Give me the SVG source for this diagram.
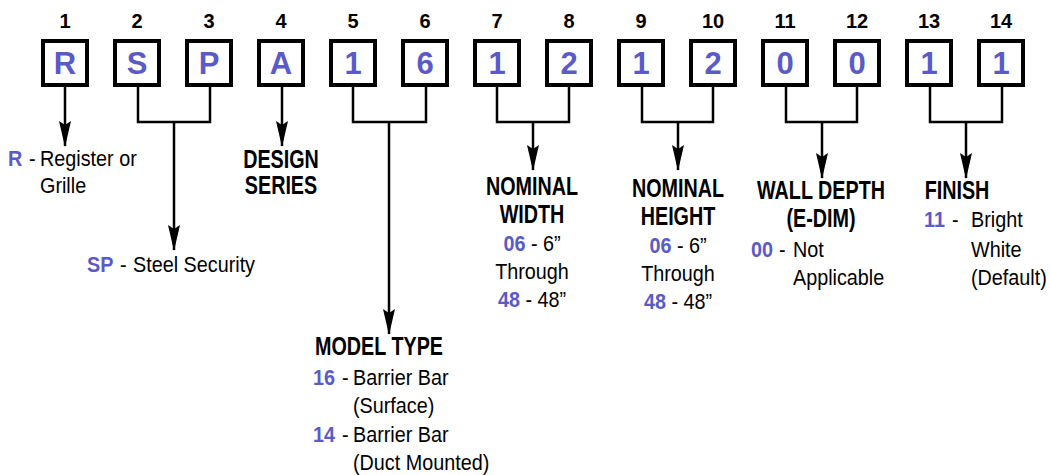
<svg xmlns="http://www.w3.org/2000/svg" width="1050" height="475" viewBox="0 0 1050 475">
<style>
text{font-family:"Liberation Sans",Arial,sans-serif;fill:#000}
.num{font-size:20px;font-weight:bold;text-anchor:middle}
.box{fill:#fff;stroke:#000;stroke-width:4}
.ch{font-size:31px;font-weight:bold;text-anchor:middle;fill:#5a5ac8}
.h{font-size:25px;font-weight:bold;text-anchor:middle}
.t{font-size:22px}
.b{font-weight:bold;fill:#5a5ac8}
.c{text-anchor:middle}
.ln{fill:none;stroke:#000;stroke-width:2.5}
.ar{fill:none;stroke:#000;stroke-width:2.5;marker-end:url(#arr)}
</style>
<defs>
<marker id="arr" viewBox="0 0 26 12" refX="25" refY="6" markerWidth="26" markerHeight="12" markerUnits="userSpaceOnUse" orient="auto">
<path d="M0,0 L26,6 L0,12 L4,6 z" fill="#000"/>
</marker>
</defs>
<g id="positions">
<text class="num" x="65" y="28">1</text>
<text class="num" x="137" y="28">2</text>
<text class="num" x="209" y="28">3</text>
<text class="num" x="281" y="28">4</text>
<text class="num" x="353" y="28">5</text>
<text class="num" x="425" y="28">6</text>
<text class="num" x="497" y="28">7</text>
<text class="num" x="569" y="28">8</text>
<text class="num" x="641" y="28">9</text>
<text class="num" x="713" y="28">10</text>
<text class="num" x="785" y="28">11</text>
<text class="num" x="857" y="28">12</text>
<text class="num" x="929" y="28">13</text>
<text class="num" x="1001" y="28">14</text>
</g>
<g id="box1"><rect class="box" x="43" y="41" width="44" height="44"/><text class="ch" x="65" y="74">R</text></g>
<g id="box2"><rect class="box" x="115" y="41" width="44" height="44"/><text class="ch" x="137" y="74">S</text></g>
<g id="box3"><rect class="box" x="187" y="41" width="44" height="44"/><text class="ch" x="209" y="74">P</text></g>
<g id="box4"><rect class="box" x="259" y="41" width="44" height="44"/><text class="ch" x="281" y="74">A</text></g>
<g id="box5"><rect class="box" x="331" y="41" width="44" height="44"/><text class="ch" x="353" y="74">1</text></g>
<g id="box6"><rect class="box" x="403" y="41" width="44" height="44"/><text class="ch" x="425" y="74">6</text></g>
<g id="box7"><rect class="box" x="475" y="41" width="44" height="44"/><text class="ch" x="497" y="74">1</text></g>
<g id="box8"><rect class="box" x="547" y="41" width="44" height="44"/><text class="ch" x="569" y="74">2</text></g>
<g id="box9"><rect class="box" x="619" y="41" width="44" height="44"/><text class="ch" x="641" y="74">1</text></g>
<g id="box10"><rect class="box" x="691" y="41" width="44" height="44"/><text class="ch" x="713" y="74">2</text></g>
<g id="box11"><rect class="box" x="763" y="41" width="44" height="44"/><text class="ch" x="785" y="74">0</text></g>
<g id="box12"><rect class="box" x="835" y="41" width="44" height="44"/><text class="ch" x="857" y="74">0</text></g>
<g id="box13"><rect class="box" x="907" y="41" width="44" height="44"/><text class="ch" x="929" y="74">1</text></g>
<g id="box14"><rect class="box" x="979" y="41" width="44" height="44"/><text class="ch" x="1001" y="74">1</text></g>
<g id="connectors">
<path class="ar" d="M65,87 V146"/>
<path class="ln" d="M138,87 V122 H210 V87"/>
<path class="ar" d="M174,122 V250"/>
<path class="ar" d="M282,87 V146"/>
<path class="ln" d="M353,87 V122 H426 V87"/>
<path class="ar" d="M389,122 V334"/>
<path class="ln" d="M497,87 V122 H569 V87"/>
<path class="ar" d="M533,122 V170"/>
<path class="ln" d="M642,87 V122 H713 V87"/>
<path class="ar" d="M678,122 V170"/>
<path class="ln" d="M786,87 V122 H857 V87"/>
<path class="ar" d="M822,122 V178"/>
<path class="ln" d="M930,87 V122 H1002 V87"/>
<path class="ar" d="M966,122 V178"/>
</g>
<g id="label-register">
<text class="t" transform="translate(8,166) scale(0.9,1)"><tspan class="b" x="0">R</tspan><tspan x="23.3">-</tspan><tspan x="35.6">Register or</tspan></text>
<text class="t" transform="translate(40,193) scale(0.9,1)">Grille</text>
</g>
<g id="label-steel">
<text class="t" transform="translate(87,272) scale(0.9,1)"><tspan class="b" x="0">SP</tspan><tspan x="36.7">-</tspan><tspan x="51.1">Steel Security</tspan></text>
</g>
<g id="label-design">
<text class="h" transform="translate(281,168) scale(0.79,1)">DESIGN</text>
<text class="h" transform="translate(281,194) scale(0.79,1)">SERIES</text>
</g>
<g id="label-model">
<text class="h" transform="translate(379,355) scale(0.79,1)">MODEL TYPE</text>
<text class="t" transform="translate(313,385) scale(0.9,1)"><tspan class="b" x="0">16</tspan><tspan x="32.2">-</tspan><tspan x="44.4">Barrier Bar</tspan></text>
<text class="t" transform="translate(353,413) scale(0.9,1)">(Surface)</text>
<text class="t" transform="translate(313,442) scale(0.9,1)"><tspan class="b" x="0">14</tspan><tspan x="32.2">-</tspan><tspan x="44.4">Barrier Bar</tspan></text>
<text class="t" transform="translate(353,470) scale(0.9,1)">(Duct Mounted)</text>
</g>
<g id="label-width">
<text class="h" transform="translate(532,195) scale(0.79,1)">NOMINAL</text>
<text class="h" transform="translate(532,223) scale(0.79,1)">WIDTH</text>
<text class="t c" transform="translate(532,251) scale(0.9,1)"><tspan class="b">06</tspan> - 6”</text>
<text class="t c" transform="translate(532,279) scale(0.9,1)">Through</text>
<text class="t c" transform="translate(532,307) scale(0.9,1)"><tspan class="b">48</tspan> - 48”</text>
</g>
<g id="label-height">
<text class="h" transform="translate(678,197) scale(0.79,1)">NOMINAL</text>
<text class="h" transform="translate(678,225) scale(0.79,1)">HEIGHT</text>
<text class="t c" transform="translate(678,253) scale(0.9,1)"><tspan class="b">06</tspan> - 6”</text>
<text class="t c" transform="translate(678,281) scale(0.9,1)">Through</text>
<text class="t c" transform="translate(678,309) scale(0.9,1)"><tspan class="b">48</tspan> - 48”</text>
</g>
<g id="label-wall">
<text class="h" transform="translate(821,199) scale(0.79,1)">WALL DEPTH</text>
<text class="h" transform="translate(821,227) scale(0.79,1)">(E-DIM)</text>
<text class="t" transform="translate(751,257) scale(0.9,1)"><tspan class="b" x="0">00</tspan><tspan x="31.1">-</tspan><tspan x="46.7">Not</tspan></text>
<text class="t" transform="translate(793,285) scale(0.9,1)">Applicable</text>
</g>
<g id="label-finish">
<text class="h" transform="translate(957,199) scale(0.79,1)">FINISH</text>
<text class="t" transform="translate(924,227) scale(0.9,1)"><tspan class="b" x="0">11</tspan><tspan x="31.1">-</tspan><tspan x="52.2">Bright</tspan></text>
<text class="t" transform="translate(971,257) scale(0.9,1)">White</text>
<text class="t" transform="translate(971,285) scale(0.9,1)">(Default)</text>
</g>
</svg>
